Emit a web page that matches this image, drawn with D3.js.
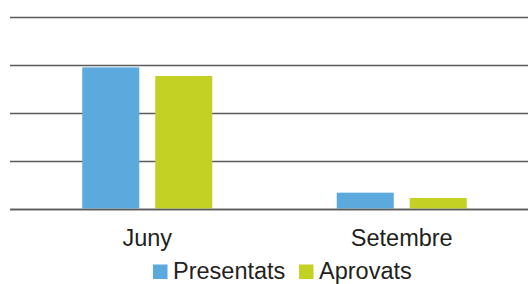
<!DOCTYPE html>
<html>
<head>
<meta charset="utf-8">
<script src="https://cdn.jsdelivr.net/npm/d3@7"></script>
<style>
  html, body { margin: 0; padding: 0; background: #fff; }
  svg { display: block; }
  text { font-family: "Liberation Sans", Arial, Helvetica, sans-serif; fill: #231f20; }
</style>
</head>
<body>
<svg id="chart" width="528" height="284"></svg>
<script>
const categories = ["Juny", "Setembre"];
const seriesNames = ["Presentats", "Aprovats"];
const presentats = [147, 16.5];
const aprovats = [138, 11];
const yTicks = [0, 50, 100, 150, 200];
const colors = ["#5ca9dd", "#c3d024"];

const svg = d3.select("#chart");
const W = 528, H = 284;

const y = d3.scaleLinear().domain([0, 200]).range([208.5, 16.5]);
const x0 = d3.scaleBand().domain(categories).range([20, 529]).paddingInner(0).paddingOuter(0);
const groupW = 130;
const x1 = d3.scaleBand().domain(seriesNames).range([0, groupW]).paddingInner(0.219).paddingOuter(0);

// gridlines
svg.append("g").selectAll("line").data(yTicks).join("line")
  .attr("x1", 10).attr("x2", W)
  .attr("y1", d => Math.round(y(d)) + 0.5).attr("y2", d => Math.round(y(d)) + 0.5)
  .attr("stroke", "#5a5a5a").attr("stroke-width", 1.3);

const data = categories.map((c, i) => ({ cat: c, vals: [presentats[i], aprovats[i]] }));

const g = svg.append("g").selectAll("g").data(data).join("g")
  .attr("transform", d => `translate(${x0(d.cat) + x0.bandwidth() / 2 - groupW / 2},0)`);

g.selectAll("rect").data(d => d.vals.map((v, j) => ({ s: seriesNames[j], v, j })))
  .join("rect")
  .attr("x", d => x1(d.s))
  .attr("width", x1.bandwidth())
  .attr("y", d => y(d.v))
  .attr("height", d => y(0) - y(d.v))
  .attr("fill", d => colors[d.j]);

// redraw baseline over bars
svg.append("line")
  .attr("x1", 10).attr("x2", W)
  .attr("y1", Math.round(y(0)) + 0.5).attr("y2", Math.round(y(0)) + 0.5)
  .attr("stroke", "#5a5a5a").attr("stroke-width", 1.3);

// category labels
svg.append("g").selectAll("text").data(categories).join("text")
  .attr("x", d => x0(d) + x0.bandwidth() / 2)
  .attr("y", 246)
  .attr("text-anchor", "middle")
  .style("font-size", "23.5px")
  .text(d => d);

// legend
const legendX = [153, 299];
const items = svg.append("g").selectAll("g").data(seriesNames).join("g")
  .attr("transform", (d, i) => `translate(${legendX[i]},0)`);
items.append("rect").attr("width", 14.5).attr("height", 14.5).attr("y", 264.5)
  .attr("fill", (d, i) => colors[i]);
items.append("text").attr("x", 20).attr("y", 279).style("font-size", "23.5px").text(d => d);
</script>
</body>
</html>
